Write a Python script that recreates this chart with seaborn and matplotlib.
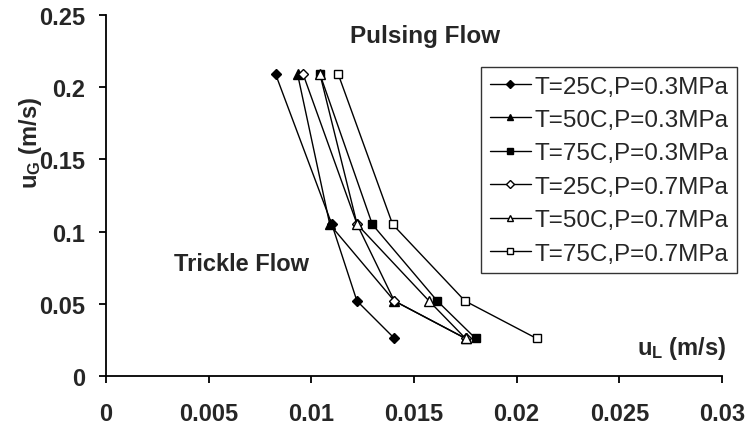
import matplotlib
matplotlib.use("Agg")
import matplotlib.pyplot as plt
import seaborn as sns
import pandas as pd

# ---- data ----
uG = [0.209, 0.105, 0.052, 0.026]
s1 = [0.00826, 0.0110, 0.01222, 0.01405]   # T=25C,P=0.3MPa
s2 = [0.00933, 0.0109, 0.01404, 0.01751]   # T=50C,P=0.3MPa
s3 = [0.01042, 0.01297, 0.01613, 0.0180]   # T=75C,P=0.3MPa
s4 = [0.0096, 0.01223, 0.01404, 0.01751]   # T=25C,P=0.7MPa
s5 = [0.01042, 0.01223, 0.01573, 0.01751]  # T=50C,P=0.7MPa
s6 = [0.01131, 0.01396, 0.01748, 0.02097]  # T=75C,P=0.7MPa
labels = ["T=25C,P=0.3MPa", "T=50C,P=0.3MPa", "T=75C,P=0.3MPa",
          "T=25C,P=0.7MPa", "T=50C,P=0.7MPa", "T=75C,P=0.7MPa"]
xticks = [0, 0.005, 0.01, 0.015, 0.02, 0.025, 0.03]
xticklabels = ["0", "0.005", "0.01", "0.015", "0.02", "0.025", "0.03"]
yticks = [0, 0.05, 0.1, 0.15, 0.2, 0.25]
yticklabels = ["0", "0.05", "0.1", "0.15", "0.2", "0.25"]

series = [s1, s2, s3, s4, s5, s6]
rows = []
for lab, xs in zip(labels, series):
    for x, y in zip(xs, uG):
        rows.append({"series": lab, "uL": x, "uG": y})
df = pd.DataFrame(rows)

sns.set_style("white")
plt.rcParams['font.family'] = ['Liberation Sans', 'DejaVu Sans']
plt.rcParams['mathtext.fontset'] = 'custom'
plt.rcParams['mathtext.rm'] = 'Liberation Sans'
plt.rcParams['mathtext.bf'] = 'Liberation Sans:bold'

fig = plt.figure(figsize=(7.5, 4.31), dpi=100)
ax = fig.add_axes([106/750, 1-377/431, 616/750, 361/431])

styles = [("D", "black", 5.5), ("^", "black", 6.5), ("s", "black", 5.5),
          ("D", "white", 5.5), ("^", "white", 6.5), ("s", "white", 5.5)]
for lab, (m, fc, ms) in zip(labels, styles):
    sub = df[df["series"] == lab]
    sns.lineplot(data=sub, x="uL", y="uG", sort=False, estimator=None, ax=ax,
                 color="black", linewidth=1.0, marker=m, markersize=ms,
                 markerfacecolor=fc, markeredgecolor="black", markeredgewidth=1.0,
                 label=lab)

ax.set_xlim(0, 0.03)
ax.set_ylim(0, 0.25)
ax.set_xticks(xticks)
ax.set_xticklabels(xticklabels, fontsize=17, fontweight="bold")
ax.set_yticks(yticks)
ax.set_yticklabels(yticklabels, fontsize=17, fontweight="bold")
ax.set_xlabel("")
ax.set_ylabel("")
for sp in ["top", "right"]:
    ax.spines[sp].set_visible(False)
for sp in ["left", "bottom"]:
    ax.spines[sp].set_color("black")
    ax.spines[sp].set_linewidth(1.3)
ax.tick_params(axis="both", direction="out", length=5, width=1.3, color="black",
               bottom=True, left=True)
ax.tick_params(axis="y", pad=10)
ax.tick_params(axis="x", pad=14)

ax.text(0.01553, 0.2355, "Pulsing Flow", fontsize=17.5, fontweight="bold",
        ha="center", va="center")
ax.text(0.00662, 0.0776, "Trickle Flow", fontsize=17, fontweight="bold",
        ha="center", va="center")
fig.text(726/750, 1-349/431, r"$\mathbf{u_L}$ (m/s)", fontsize=17, fontweight="bold",
         ha="right", va="center")
fig.text(30/750, 1-143/431, r"$\mathbf{u_G}$ (m/s)", fontsize=17, fontweight="bold",
         ha="center", va="center", rotation=90)

leg = ax.legend(loc="upper right", bbox_to_anchor=(737/750, 1-68/431),
                bbox_transform=fig.transFigure, borderaxespad=0,
                fontsize=17.5, frameon=True, fancybox=False, edgecolor="black",
                handlelength=1.7, handletextpad=0.15, labelspacing=0.47,
                borderpad=0.35, markerscale=0.7)
leg.get_frame().set_linewidth(1.0)

fig.savefig("out.png", dpi=100, facecolor="white")
